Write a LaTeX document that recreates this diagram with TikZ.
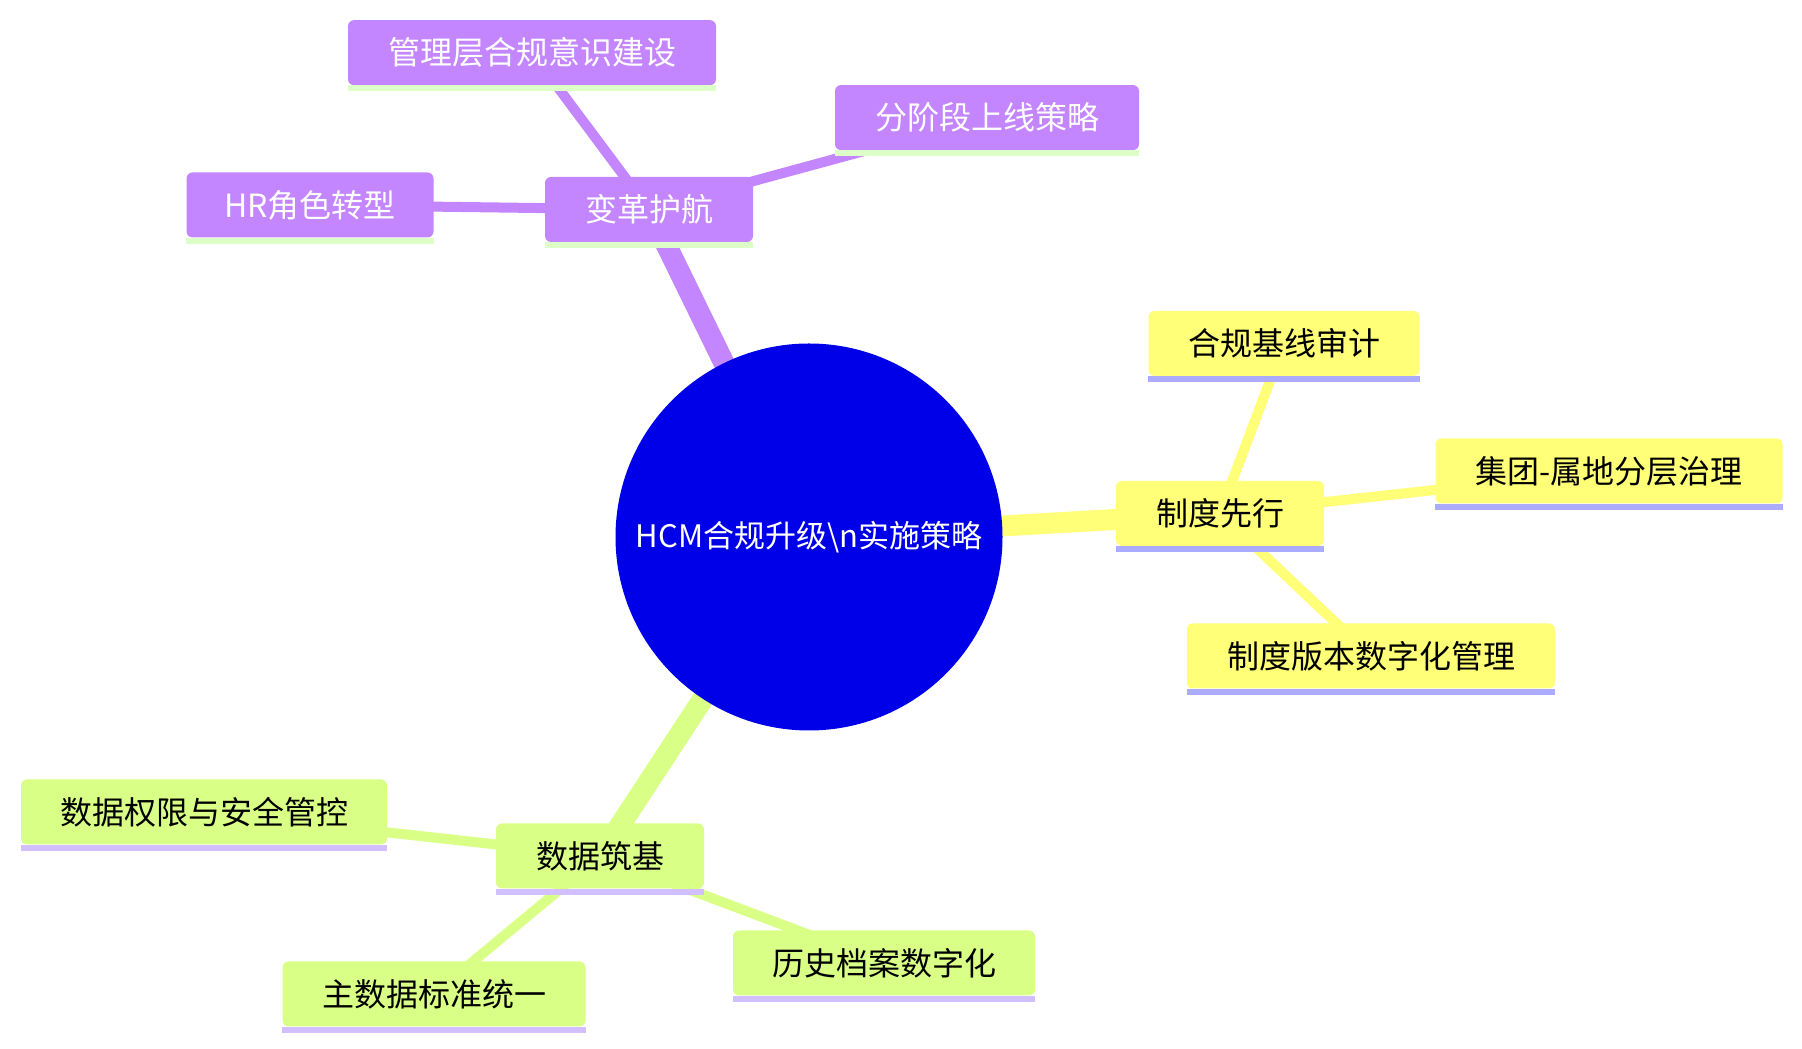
\documentclass[tikz,border=0pt]{standalone}
\usepackage{fontspec}
\setmainfont{Noto Sans CJK SC}
\usetikzlibrary{backgrounds}
\definecolor{rootc}{HTML}{0000E8}
\definecolor{purfill}{HTML}{C386FF}
\definecolor{purline}{HTML}{DDFFC8}
\definecolor{purtxt}{HTML}{FFFFFF}
\definecolor{yelfill}{HTML}{FFFF78}
\definecolor{yelline}{HTML}{ABABFF}
\definecolor{yeltxt}{HTML}{000000}
\definecolor{grnfill}{HTML}{D9FF87}
\definecolor{grnline}{HTML}{D2BFFF}
\definecolor{grntxt}{HTML}{000000}
\tikzset{
  leaf/.style={inner sep=0pt, minimum height=65pt, rounded corners=6pt,
    font=\fontsize{32}{38}\selectfont},
  rootnode/.style={circle, fill=rootc, minimum size=387pt, inner sep=0pt,
    text=white, font=\fontsize{31}{37}\selectfont},
  mainedge/.style={line width=21pt},
  subedge/.style={line width=10pt},
}
% name, x, y(center incl. underline), width, text, section
\newcommand\mmbox[6]{%
  \node[leaf, minimum width=#4pt, fill=#6fill, text=#6txt] (#1) at (#2,#3+3) {#5};
  \fill[#6line] ([yshift=-6pt]#1.south west) rectangle (#1.south east);
}
\begin{document}
\begin{tikzpicture}[x=1pt,y=1pt]
\useasboundingbox (0,0) rectangle (1802,1049);
\node[rootnode] (root) at (809,512) {HCM合规升级\textbackslash n实施策略};
% purple section
\mmbox{change}{649}{836.5}{208}{变革护航}{pur}
\mmbox{mgmt}{532}{993.3}{368}{管理层合规意识建设}{pur}
\mmbox{phase}{987}{928.4}{304}{分阶段上线策略}{pur}
\mmbox{hr}{310}{841}{247}{HR角色转型}{pur}
% yellow section
\mmbox{policy}{1220}{532.5}{208}{制度先行}{yel}
\mmbox{audit}{1284}{702.5}{271}{合规基线审计}{yel}
\mmbox{group}{1609}{575}{347}{集团-属地分层治理}{yel}
\mmbox{version}{1371}{390}{368}{制度版本数字化管理}{yel}
% green section
\mmbox{data}{600}{190}{208}{数据筑基}{grn}
\mmbox{perm}{204}{234}{366}{数据权限与安全管控}{grn}
\mmbox{master}{434}{52}{303}{主数据标准统一}{grn}
\mmbox{history}{884}{83}{302}{历史档案数字化}{grn}
\begin{pgfonlayer}{background}
  \draw[mainedge, purfill] (root.center) -- (change.center);
  \draw[mainedge, yelfill] (root.center) -- (policy.center);
  \draw[mainedge, grnfill] (root.center) -- (data.center);
  \draw[subedge, purfill] (change.center) -- (mgmt.center);
  \draw[subedge, purfill] (change.center) -- (phase.center);
  \draw[subedge, purfill] (change.center) -- (hr.center);
  \draw[subedge, yelfill] (policy.center) -- (audit.center);
  \draw[subedge, yelfill] (policy.center) -- (group.center);
  \draw[subedge, yelfill] (policy.center) -- (version.center);
  \draw[subedge, grnfill] (data.center) -- (perm.center);
  \draw[subedge, grnfill] (data.center) -- (master.center);
  \draw[subedge, grnfill] (data.center) -- (history.center);
\end{pgfonlayer}
\end{tikzpicture}
\end{document}
